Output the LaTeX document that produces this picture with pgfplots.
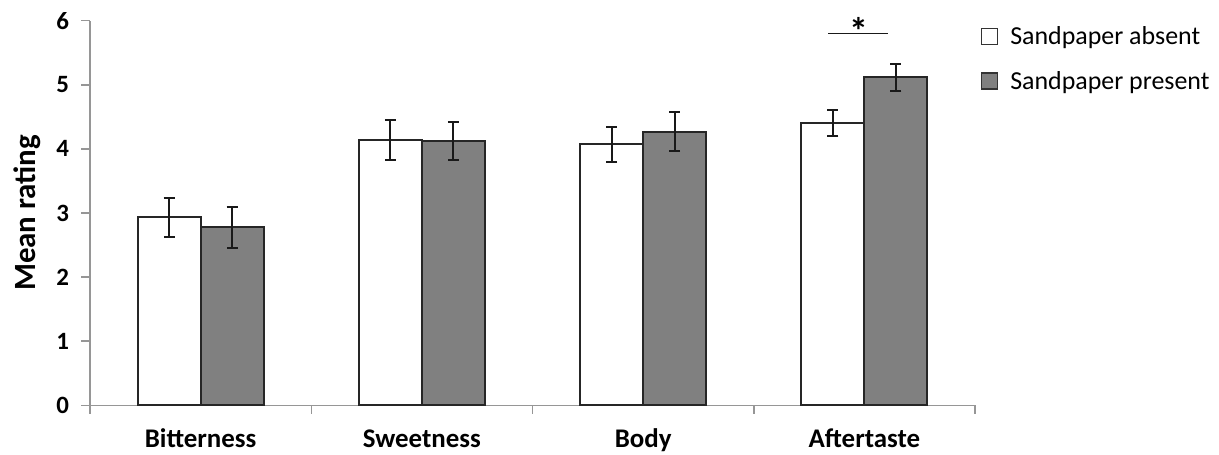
\documentclass[border=0pt]{standalone}
\usepackage{fontspec}
\setmainfont{Carlito}
\usepackage{pgfplots}
\pgfplotsset{compat=1.18}
\definecolor{axgray}{RGB}{150,150,150}
\definecolor{bargray}{RGB}{128,128,128}
\pgfplotsset{myerr/.style={error bars/.cd, y dir=both, y explicit,
  error bar style={black!90, line width=2bp},
  error mark options={rotate=90, mark size=5.5bp, black!90, line width=2bp}}}
\begin{document}
\begin{tikzpicture}
\begin{axis}[name=ax, scale only axis, width=885bp, height=384.6bp,
  xmin=0, xmax=4, ymin=0, ymax=6,
  axis lines*=left,
  axis line style={axgray, line width=1.5bp},
  tick style={axgray, line width=1.5bp},
  tick align=outside, major tick length=8.5bp,
  ybar=0pt, bar width=63bp,
  xtick={0,1,2,3,4}, xticklabels={},
  extra x ticks={0.5,1.5,2.5,3.5},
  extra x tick labels={Bitterness,Sweetness,Body,Aftertaste},
  extra x tick style={major tick length=0pt, tick style={draw=none}},
  ytick={0,1,2,3,4,5,6},
  /pgf/number format/assume math mode=true,
  xticklabel style={font=\fontsize{27}{32}\selectfont\bfseries, text height=18bp, text depth=6bp, yshift=-21bp},
  yticklabel style={font=\fontsize{25}{30}\selectfont\bfseries, xshift=-9bp},
  ylabel={Mean rating},
  every axis y label/.style={at={(axis description cs:0,0.5)}, xshift=-63bp, rotate=90, anchor=center, font=\fontsize{31}{36}\selectfont\bfseries},
  clip=false,
  legend style={at={(1.003,0.995)}, anchor=north west, draw=none, fill=none,
    font=\fontsize{26}{31}\selectfont, row sep=21bp,
    /tikz/every odd column/.append style={column sep=10bp}},
  legend cell align=left,
]
\addplot[fill=white, draw=black!85, line width=2bp,
  legend image code/.code={\draw[fill=white, draw=black!80, line width=1.5bp] (0bp,-8bp) rectangle (16bp,8bp);}, myerr]
  coordinates {(0.5,2.93) +- (0,0.31) (1.5,4.14) +- (0,0.31) (2.5,4.07) +- (0,0.27) (3.5,4.40) +- (0,0.20)};
\addlegendentry{Sandpaper absent}
\addplot[fill=bargray, draw=black!85, line width=2bp,
  legend image code/.code={\draw[fill=bargray, draw=black!80, line width=1.5bp] (0bp,-8bp) rectangle (16bp,8bp);}, myerr]
  coordinates {(0.5,2.78) +- (0,0.32) (1.5,4.12) +- (0,0.30) (2.5,4.27) +- (0,0.31) (3.5,5.12) +- (0,0.21)};
\addlegendentry{Sandpaper present}
\draw[black!90, line width=1.5bp] (axis cs:3.336,5.80) -- (axis cs:3.607,5.80);
\node[font=\fontsize{38}{40}\selectfont\bfseries, anchor=north, inner sep=0pt] at (axis cs:3.475,6.05) {*};
\end{axis}
\pgfresetboundingbox
\path ([shift={(-90bp,-49.7bp)}]ax.south west) rectangle ++(1219bp,455bp);
\end{tikzpicture}
\end{document}
